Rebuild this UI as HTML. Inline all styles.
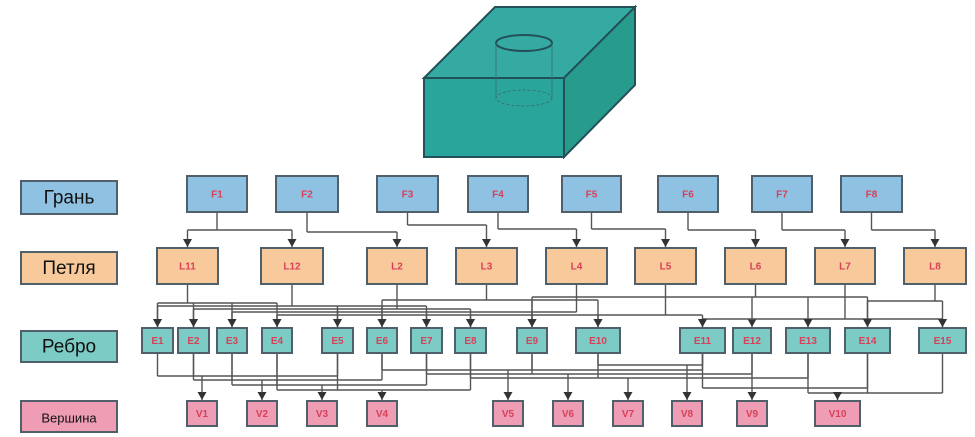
<!DOCTYPE html>
<html><head><meta charset="utf-8"><style>
html,body{margin:0;padding:0;background:#fff;width:975px;height:437px;overflow:hidden}
svg{display:block}
</style></head><body>
<svg id="s" width="975" height="437" viewBox="0 0 975 437" xmlns="http://www.w3.org/2000/svg" font-family="Liberation Sans, sans-serif">
<defs><marker id="a" markerWidth="9" markerHeight="10" refX="8" refY="4.5" orient="auto" markerUnits="userSpaceOnUse"><path d="M0,0 L8,4.5 L0,9 z" fill="#333"/></marker></defs>
<!-- cube -->
<polygon points="424,78 495,7 635,7 564,78" fill="#34aaa2" stroke="#24505a" stroke-width="2"/>
<polygon points="564,78 635,7 635,85 564,157" fill="#279c8c" stroke="#24505a" stroke-width="2"/>
<rect x="424" y="78" width="140" height="79" fill="#2aa59c" stroke="#24505a" stroke-width="2"/>
<ellipse cx="524" cy="43" rx="28" ry="8" fill="none" stroke="#24505a" stroke-width="2"/>
<line x1="496" y1="43" x2="496" y2="98" stroke="#3a6a6a" stroke-width="0.8"/>
<line x1="552" y1="43" x2="552" y2="98" stroke="#3a6a6a" stroke-width="0.8"/>
<ellipse cx="524" cy="98" rx="28" ry="8" fill="none" stroke="#3a6a6a" stroke-width="0.8" stroke-dasharray="3,2"/>
<g id="lines" stroke="#555" stroke-width="1.4" fill="none"></g>
<g id="boxes"></g>
</svg>
<script>
var ns="http://www.w3.org/2000/svg",L=document.getElementById('lines'),B=document.getElementById('boxes');
function el(p,t,a,txt){var e=document.createElementNS(ns,t);for(var k in a)e.setAttribute(k,a[k]);if(txt)e.textContent=txt;p.appendChild(e);return e}
function box(x1,x2,y1,y2,fill,t,big){el(B,'rect',{x:x1,y:y1,width:x2-x1,height:y2-y1,fill:fill,stroke:'#50606a','stroke-width':2});
el(B,'text',{x:(x1+x2)/2,y:(y1+y2)/2+(big?6:3.5),'text-anchor':'middle','font-size':big?big:10,'font-weight':big?'normal':'bold',fill:big?'#111':'#d8405a'},t)}
var F=[[187,247],[276,338],[377,438],[468,528],[562,621],[658,718],[752,812],[841,902]];
var Lb=[[157,218],[261,323],[367,427],[456,517],[546,607],[635,696],[725,786],[815,875],[904,966]];
var LN=['L11','L12','L2','L3','L4','L5','L6','L7','L8'];
var E=[[142,173],[178,209],[217,247],[262,292],[322,353],[367,397],[411,442],[455,486],[517,547],[576,620],[680,725],[733,771],[786,830],[845,890],[919,966]];
var V=[[187,217],[247,277],[307,337],[367,397],[493,523],[553,583],[613,643],[672,702],[737,767],[815,860]];
function c(b){return (b[0]+b[1])/2}
function path(d,m){var a={d:d};if(m)a['marker-end']='url(#a)';el(L,'path',a)}
var fl=[[0,[0,1],230],[1,[2],232],[2,[3],225],[3,[4],229],[4,[5],229],[5,[6],230],[6,[7],230],[7,[8],230]];
fl.forEach(function(r){var x=c(F[r[0]]);var xs=r[1].map(function(i){return c(Lb[i])});var mn=Math.min.apply(0,xs.concat([x])),mx=Math.max.apply(0,xs.concat([x]));
path('M'+x+',212 V'+r[2]);path('M'+mn+','+r[2]+' H'+mx);xs.forEach(function(xx){path('M'+xx+','+r[2]+' V247',1)})});
var le=[[0,[0,1,2,3],303],[1,[0,4,5,6],306],[2,[1,4,7],309],[3,[5,8,9],300],[4,[2,6,8],312],[5,[3,7,9,10],315],[6,[8,11,12,13],297],[7,[10,12,14],319],[8,[13,14],301]];
le.forEach(function(r){var x=c(Lb[r[0]]);var xs=r[1].map(function(i){return c(E[i])});var mn=Math.min.apply(0,xs.concat([x])),mx=Math.max.apply(0,xs.concat([x]));
path('M'+x+',284 V'+r[2]);path('M'+mn+','+r[2]+' H'+mx);xs.forEach(function(xx){path('M'+xx+','+r[2]+' V327',1)})});
var ev=[[0,[0,1,4],376],[1,[1,2,5],380],[2,[2,3,6],385],[3,[3,4,7],390],[4,[5,8,10],370],[5,[6,8,11],374],[6,[7,9,12],378],[7,[9,10],365],[8,[10,11,13],388],[9,[12,13,14],393]];
ev.forEach(function(r){var x=c(V[r[0]]);var xs=r[1].map(function(i){return c(E[i])});var mn=Math.min.apply(0,xs.concat([x])),mx=Math.max.apply(0,xs.concat([x]));
xs.forEach(function(xx){path('M'+xx+',353 V'+r[2])});path('M'+mn+','+r[2]+' H'+mx);path('M'+x+','+r[2]+' V400',1)});
box(21,117,181,214,'#8fc1e3','Грань',19);box(21,117,252,284,'#f7c99b','Петля',19);box(21,117,331,362,'#7ccbc4','Ребро',19);box(21,117,401,432,'#ee9db5','Вершина',13);
F.forEach(function(b,i){box(b[0],b[1],176,212,'#8fc1e3','F'+(i+1))});
Lb.forEach(function(b,i){box(b[0],b[1],248,284,'#f7c99b',LN[i])});
E.forEach(function(b,i){box(b[0],b[1],328,353,'#7ccbc4','E'+(i+1))});
V.forEach(function(b,i){box(b[0],b[1],401,426,'#ee9db5','V'+(i+1))});
</script>
</body></html>
